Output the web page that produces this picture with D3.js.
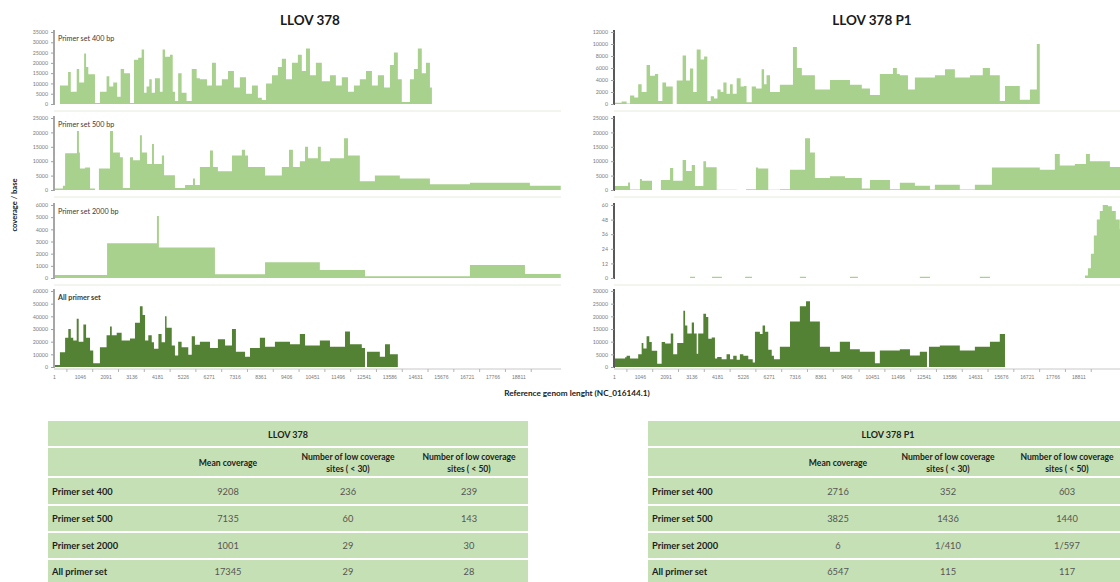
<!DOCTYPE html>
<html><head><meta charset="utf-8">
<script src="https://cdn.jsdelivr.net/npm/d3@7"></script>
<style>
html,body{margin:0;padding:0;background:#fff;}
svg{display:block;font-family:Lato,"Open Sans",sans-serif;}
</style></head><body>
<svg id="chart" width="1120" height="582"></svg>
<script>
// ---------------- data ----------------
// x-axis tick labels (reference genome position)
const xTickLabels = [1,1046,2091,3136,4181,5226,6271,7316,8361,9406,10451,11496,12541,13586,14631,15676,16721,17766,18811];

// y tick values per panel
const ticksL400 = [0,5000,10000,15000,20000,25000,30000,35000];
const ticksL500 = [0,5000,10000,15000,20000,25000];
const ticksL2000 = [0,1000,2000,3000,4000,5000,6000];
const ticksLAll = [0,10000,20000,30000,40000,50000,60000];
const ticksR400 = [0,2000,4000,6000,8000,10000,12000];
const ticksR500 = [0,5000,10000,15000,20000,25000];
const ticksR2000 = [0,12,24,36,48,60];
const ticksRAll = [0,5000,10000,15000,20000,25000,30000];

// coverage profiles: [segment start (genome position), coverage per base]
const llovSet400 = [[0,0],[240,9000],[570,15500],[680,6000],[920,17000],[1020,10500],[1220,24500],[1300,18000],[1390,14500],[1660,500],[1860,6000],[2130,13500],[2240,8500],[2400,10500],[2560,3500],[2700,17000],[2840,15000],[3080,500],[3240,21500],[3410,22500],[3550,26500],[3650,5500],[3750,8500],[3860,12000],[3960,5500],[4090,12500],[4290,6000],[4400,26500],[4500,23000],[4700,24000],[4810,6000],[4900,1500],[5030,15000],[5170,5500],[5370,1500],[5580,17000],[5780,12500],[5910,12000],[6200,9000],[6400,20000],[6560,9000],[6800,12000],[7050,16000],[7290,8000],[7530,13000],[7780,5000],[8020,9000],[8260,3000],[8420,2000],[8590,10000],[8830,14000],[9070,18000],[9230,22000],[9400,12000],[9640,20000],[9880,24000],[10040,16000],[10210,27000],[10370,14000],[10610,20000],[10850,11000],[11180,14000],[11420,9000],[11660,13000],[11910,6000],[12150,9000],[12390,12000],[12640,16000],[12880,9000],[13120,14000],[13370,8000],[13610,19000],[13770,25000],[13930,12000],[14090,1000],[14420,12000],[14580,17000],[14740,27000],[14900,15000],[15070,20000],[15230,8000],[15310,0]];
const llovSet500 = [[0,500],[360,1500],[450,12750],[930,20500],[1010,13000],[1050,7500],[1260,7800],[1460,500],[1660,0],[1820,7500],[2270,20500],[2390,13000],[2670,11400],[2790,700],[3080,11400],[3200,10300],[3480,19000],[3560,13000],[3770,9000],[3970,16000],[4050,9000],[4370,12000],[4460,5100],[4900,700],[5310,1700],[5630,4000],[5710,1700],[5910,8000],[6320,13700],[6440,8000],[6640,6500],[7210,12000],[7610,14000],[7740,12000],[7860,8000],[8550,5000],[9230,8000],[9520,14000],[9680,8000],[9960,10000],[10170,15000],[10290,11000],[10690,15000],[10810,10000],[11180,11000],[11750,18000],[11910,12000],[12390,3000],[13000,5000],[14010,4000],[15230,2000],[16850,2500],[19280,1500],[20530,0]];
const llovSet2000 = [[0,250],[2150,2850],[4170,5100],[4250,2500],[6520,300],[8550,1300],[10770,650],[12600,150],[16850,1070],[19080,330],[20530,0]];
const llovAll = [[0,1500],[240,11700],[450,23000],[580,30000],[680,23000],[780,21000],[920,38000],[1000,20000],[1190,33500],[1300,23000],[1460,13000],[1590,3000],[1860,15600],[2130,25000],[2270,32000],[2340,25000],[2540,27000],[2740,21000],[3080,22500],[3280,35000],[3480,48000],[3590,41000],[3690,21000],[3820,25000],[3960,19500],[4050,14500],[4230,26000],[4360,19500],[4500,40000],[4560,31000],[4770,17000],[4900,9000],[5030,20000],[5170,15500],[5440,9600],[5580,24300],[5710,17500],[5910,20000],[6320,15000],[6640,22000],[6930,17000],[7210,30000],[7370,12000],[7740,8000],[7940,15000],[8340,23000],[8550,16000],[8950,20000],[9560,18000],[9960,26000],[10170,17000],[10770,21000],[11180,16000],[11790,28000],[11990,18000],[12470,15000],[12600,0],[12680,12000],[13200,8000],[13410,18000],[13610,10000],[13930,0]];

const p1Set400 = [[0,200],[310,400],[510,100],[650,1400],[820,1100],[980,3300],[1120,2000],[1320,6500],[1460,4700],[1660,5000],[1790,500],[1960,3600],[2110,2900],[2380,0],[2540,3900],[2780,8100],[2920,3900],[3080,5900],[3210,2000],[3350,9100],[3510,7400],[3650,7900],[3780,500],[3920,1300],[4050,900],[4190,2400],[4320,2000],[4430,3600],[4560,1700],[4700,3300],[4810,1700],[4970,4300],[5130,2900],[5270,3000],[5370,300],[5580,2900],[5750,2600],[5980,5800],[6080,3300],[6180,4800],[6320,2000],[6720,3200],[7250,9500],[7410,6000],[7610,4800],[8140,2400],[8750,4000],[9560,3200],[10040,2600],[10370,1500],[10770,5000],[11300,6000],[11460,5000],[11580,4800],[11910,2400],[12190,4400],[13000,4800],[13410,5800],[13810,4400],[14420,4800],[14940,6000],[15230,4800],[15630,500],[15840,3000],[16440,700],[16850,2400],[17130,10000],[17250,0]];
const p1Set500 = [[0,1400],[570,2600],[650,200],[1050,3800],[1130,3200],[1540,0],[1900,3500],[2270,7600],[2400,3200],[2780,10400],[2920,6600],[3150,8700],[3280,1400],[3620,10000],[3730,7900],[4160,100],[4970,0],[5350,300],[5750,7800],[5840,7500],[6250,100],[6720,300],[7130,7000],[7740,18000],[7940,13000],[8140,4200],[8750,4800],[9360,4200],[10040,500],[10370,3500],[11180,300],[11580,2500],[12190,1500],[12800,200],[13000,1800],[14010,200],[14620,1800],[15310,7800],[17250,7000],[17860,12500],[18060,8500],[18670,9000],[19120,12500],[19280,10000],[20090,8000],[20600,0]];
const p1Set2000 = [[0,0],[3080,1],[3280,0],[3970,1],[4370,0],[5310,1],[5590,0],[7530,1],[7780,0],[9560,1],[9880,0],[12390,1],[12800,0],[14820,1],[15230,0],[19080,2],[19200,8],[19320,20],[19440,35],[19560,48],[19680,55],[19800,60],[20010,59],[20170,55],[20330,48],[20490,40],[20600,0]];
const p1All = [[0,3400],[450,3800],[510,4400],[650,3400],[980,5000],[1120,9500],[1190,7300],[1320,12100],[1430,9900],[1530,6400],[1750,1300],[1930,9900],[2070,9300],[2300,13200],[2400,5000],[2560,9500],[2810,22200],[2880,16400],[2970,13200],[3150,17600],[3240,13200],[3350,5200],[3410,13200],[3620,21000],[3730,19700],[3820,11200],[3960,11600],[4090,3400],[4180,3900],[4360,3100],[4560,5000],[4700,3100],[4830,4400],[4970,2900],[5100,5000],[5240,4400],[5440,3100],[5620,1800],[5710,13900],[5910,13000],[6020,16400],[6120,13900],[6250,6800],[6390,4400],[6480,3100],[6720,8000],[7130,18000],[7530,24000],[7780,26000],[7940,18000],[8340,8000],[8750,6000],[9150,10000],[9560,7000],[9960,6000],[10570,1500],[10770,6500],[11580,7000],[11990,4500],[12390,6000],[12680,0],[12760,8000],[13200,8500],[14010,6500],[14620,8000],[15230,10000],[15630,13000],[15840,0]];

// summary tables
const tableRows = ["Primer set 400","Primer set 500","Primer set 2000","All primer set"];
const tableCols = ["Mean coverage","Number of low coverage|sites ( < 30)","Number of low coverage|sites ( < 50)"];
const llovMean = ["9208","7135","1001","17345"];
const llovLow30 = ["236","60","29","29"];
const llovLow50 = ["239","143","30","28"];
const p1Mean = ["2716","3825","6","6547"];
const p1Low30 = ["352","1436","1/410","115"];
const p1Low50 = ["603","1440","1/597","117"];

// ---------------- drawing ----------------
const svg = d3.select('#chart');
const lightGreen = '#a9d18e';
const darkGreen = '#548235';
const genomeMax = 20540;

const bands = [
  {bottom:104, top:32},
  {bottom:190, top:118},
  {bottom:278, top:205},
  {bottom:367, top:291}
];

const sides = [
  {x0:54, x1:561, title:'LLOV 378', titleX:310, axisColor:'#a6a6a6',
   panels:[
     {data:llovSet400, ticks:ticksL400, label:'Primer set 400 bp', color:lightGreen},
     {data:llovSet500, ticks:ticksL500, label:'Primer set 500 bp', color:lightGreen},
     {data:llovSet2000, ticks:ticksL2000, label:'Primer set 2000 bp', color:lightGreen},
     {data:llovAll, ticks:ticksLAll, label:'All primer set', color:darkGreen, bold:true}
   ]},
  {x0:614, x1:1121, title:'LLOV 378 P1', titleX:872, axisColor:'#595959',
   panels:[
     {data:p1Set400, ticks:ticksR400, color:lightGreen},
     {data:p1Set500, ticks:ticksR500, color:lightGreen},
     {data:p1Set2000, ticks:ticksR2000, color:lightGreen},
     {data:p1All, ticks:ticksRAll, color:darkGreen}
   ]}
];

sides.forEach(side => {
  const x = d3.scaleLinear().domain([0, genomeMax]).range([side.x0, side.x1]);

  svg.append('text')
    .attr('x', side.titleX).attr('y', 25)
    .attr('text-anchor', 'middle')
    .attr('font-size', 13.5).attr('font-weight', 700).attr('fill', '#1a1a1a')
    .text(side.title);

  side.panels.forEach((p, i) => {
    const b = bands[i];
    const y = d3.scaleLinear().domain([0, d3.max(p.ticks)]).range([b.bottom, b.top]);
    const g = svg.append('g');

    if (i < 3) {
      g.append('line')
        .attr('x1', side.x0).attr('x2', side.x1)
        .attr('y1', b.bottom + 7).attr('y2', b.bottom + 7)
        .attr('stroke', '#e4ecdc').attr('stroke-width', 1);
    }

    const area = d3.area()
      .x(d => x(d[0]))
      .y0(y(0))
      .y1(d => y(d[1]))
      .curve(d3.curveStepAfter);

    g.append('path').datum(p.data)
      .attr('d', area)
      .attr('fill', p.color);

    const yAxis = d3.axisLeft(y)
      .tickValues(p.ticks)
      .tickSize(3).tickSizeOuter(0).tickPadding(3)
      .tickFormat(d3.format('d'));
    const ag = g.append('g').attr('transform', `translate(${side.x0},0)`).call(yAxis);
    ag.select('.domain').attr('stroke', side.axisColor).attr('stroke-width', 2)
      .attr('d', `M0,${b.top - 2}V${b.bottom + 1}`);
    ag.selectAll('.tick line').attr('stroke', '#a0a0a0');
    ag.selectAll('.tick text').attr('fill', '#7a7a7a').attr('font-size', 5.3)
      .attr('font-family', 'Lato, sans-serif');

    if (p.label) {
      g.append('text')
        .attr('x', side.x0 + 4).attr('y', b.top + 9)
        .attr('font-size', 7.2).attr('fill', '#3a3a3a')
        .attr('font-weight', p.bold ? 700 : 400)
        .text(p.label);
    }
  });

  // genome position axis under the last panel
  const xb = bands[3].bottom + 2;
  const xAxis = d3.axisBottom(x)
    .tickValues(xTickLabels)
    .tickSize(0).tickPadding(6)
    .tickFormat(d3.format('d'));
  const xg = svg.append('g').attr('transform', `translate(0,${xb})`).call(xAxis);
  xg.select('.domain').attr('stroke', '#c8c8c8').attr('stroke-width', 1)
    .attr('d', `M${side.x0},0H${side.x1}`);
  xg.selectAll('.tick text').attr('fill', '#7a7a7a').attr('font-size', 5.1);
  const step = xTickLabels[1] - xTickLabels[0];
  xg.selectAll('line.minor')
    .data(xTickLabels)
    .join('line')
    .attr('class', 'minor')
    .attr('x1', d => x(d + step / 2)).attr('x2', d => x(d + step / 2))
    .attr('y1', 0).attr('y2', 3)
    .attr('stroke', '#b5b5b5');
});

// axis titles
svg.append('text')
  .attr('transform', 'translate(17,205) rotate(-90)')
  .attr('text-anchor', 'middle')
  .attr('font-size', 7.6).attr('font-weight', 700).attr('fill', '#1a1a1a')
  .text('coverage / base');

svg.append('text')
  .attr('x', 577).attr('y', 396)
  .attr('text-anchor', 'middle')
  .attr('font-size', 8.2).attr('font-weight', 700).attr('fill', '#1a1a1a')
  .text('Reference genom lenght (NC_016144.1)');

// summary tables
function drawTable(left, width, title, colCenters, cols) {
  const g = svg.append('g');
  const rowsY = [421, 447, 477, 505, 532, 559, 590];
  g.append('rect').attr('x', left).attr('y', rowsY[0])
    .attr('width', width).attr('height', rowsY[6] - rowsY[0])
    .attr('fill', '#c5e0b4');
  rowsY.slice(1, 6).forEach(ry => {
    g.append('line').attr('x1', left).attr('x2', left + width)
      .attr('y1', ry).attr('y2', ry)
      .attr('stroke', '#ffffff').attr('stroke-width', 2);
  });
  g.append('text').attr('x', left + width / 2).attr('y', 438)
    .attr('text-anchor', 'middle').attr('font-size', 9).attr('font-weight', 700)
    .attr('fill', '#222').text(title);
  tableCols.forEach((c, j) => {
    const lines = c.split('|');
    const t = g.append('text').attr('text-anchor', 'middle')
      .attr('font-size', 8.6).attr('font-weight', 700).attr('fill', '#222');
    lines.forEach((ln, k) => {
      t.append('tspan').attr('x', colCenters[j])
        .attr('y', lines.length === 1 ? 466 : 460 + k * 12)
        .text(ln);
    });
  });
  tableRows.forEach((r, i) => {
    const cy = (rowsY[i + 2] + Math.min(rowsY[i + 3], 584)) / 2 + 3.5;
    g.append('text').attr('x', left + 4).attr('y', cy)
      .attr('font-size', 9.3).attr('font-weight', 700).attr('fill', '#1e1e1e')
      .text(r);
    cols.forEach((col, j) => {
      g.append('text').attr('x', colCenters[j]).attr('y', cy)
        .attr('text-anchor', 'middle').attr('font-size', 9.3).attr('fill', '#555')
        .text(col[i]);
    });
  });
}

drawTable(48, 480, 'LLOV 378', [228, 348, 469], [llovMean, llovLow30, llovLow50]);
drawTable(648, 480, 'LLOV 378 P1', [838, 948, 1067], [p1Mean, p1Low30, p1Low50]);
</script>
</body></html>
